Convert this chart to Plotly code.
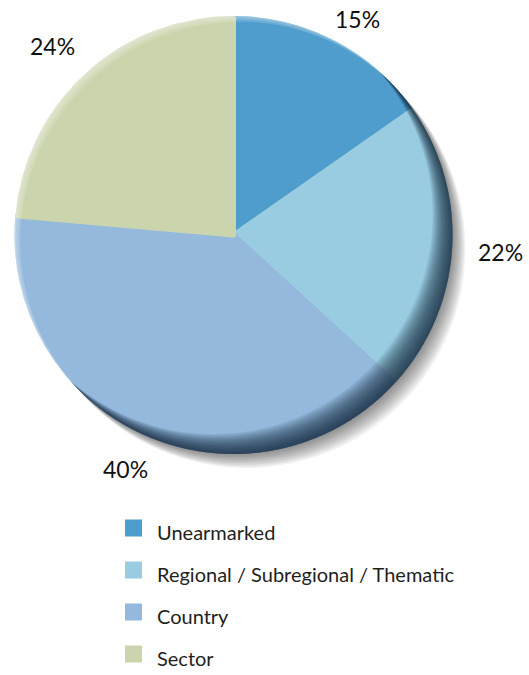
import math
import plotly.graph_objects as go

labels = ["Unearmarked", "Regional / Subregional / Thematic", "Country", "Sector"]
values = [15.3, 21.5, 39.6, 23.6]
colors = ["#4F9DCC", "#99CCE1", "#94B9DD", "#CBD5AD"]

# the figure fills the 529x675 window (body margin is reset to 0 below)
W, H = 529, 675
cx, cy, RV = 233.5, 235, 219      # visible pie centre / radius (px)
LW = 5                            # slice outline width (also enlarges legend squares)
R = RV - LW / 2                   # pie radius given to plotly


def P(x, y):
    return x / W, 1 - y / H


def circle(x, y, r, fill, layer="below"):
    x0, y1 = P(x - r, y - r)
    x1, y0 = P(x + r, y + r)
    return dict(type="circle", xref="paper", yref="paper", layer=layer,
                x0=x0, x1=x1, y0=y0, y1=y1, fillcolor=fill, line=dict(width=0))


def crescent(direction, off, fill, n=72):
    """Part of the pie disc not covered by the same disc shifted by `off` px
    away from `direction` (degrees clockwise from 12 o'clock)."""
    d = math.degrees(math.asin(off / (2 * RV)))
    ux, uy = math.sin(math.radians(direction)), -math.cos(math.radians(direction))
    ix, iy = cx - off * ux, cy - off * uy
    pts = []
    a0, a1 = direction - (90 + d), direction + (90 + d)
    for k in range(n + 1):
        t = math.radians(a0 + (a1 - a0) * k / n)
        pts.append(P(cx + RV * math.sin(t), cy - RV * math.cos(t)))
    b0, b1 = direction + (90 - d), direction - (90 - d)
    for k in range(n + 1):
        t = math.radians(b0 + (b1 - b0) * k / n)
        pts.append(P(ix + RV * math.sin(t), iy - RV * math.cos(t)))
    path = "M " + " L ".join(f"{a:.5f},{b:.5f}" for a, b in pts) + " Z"
    return dict(type="path", xref="paper", yref="paper", layer="above",
                path=path, fillcolor=fill, line=dict(width=0))


shapes = []
# soft drop shadow (below the pie)
for k in range(18, 0, -2):
    shapes.append(circle(cx + k * 0.72, cy + k * 0.78, RV, "rgba(0,0,0,0.055)"))
# dark rim shading along the lower-right edge
for off in range(28, 0, -2):
    shapes.append(crescent(135, off, "rgba(16,40,60,0.10)"))
# light rim along the upper-left edge
for off in (8, 5, 2):
    shapes.append(crescent(315, off, "rgba(255,255,255,0.16)"))

# percentage labels placed radially outside each slice's mid-angle,
# kept inside the top of the canvas
total = sum(values)
annotations = []
cum = 0
D, HW, HH, TOPMIN = 247, 21, 9, 19
for v in values:
    mid = math.radians((cum + v / 2) / total * 360)
    cum += v
    lxp = cx + (D + HW) * math.sin(mid)
    lyp = max(cy - (D + HH) * math.cos(mid), TOPMIN)
    x, y = P(lxp, lyp)
    annotations.append(dict(x=x, y=y, xref="paper", yref="paper", showarrow=False,
                            text=f"{round(v / total * 100)}%",
                            font=dict(size=23, family="Lato", color="#111111"),
                            xanchor="center", yanchor="middle"))

legend_text = [f"<span style='font-size:20px'>{l}</span>" for l in labels]

lx, ly = P(110, 502)
fig = go.Figure(go.Pie(
    labels=legend_text,
    values=values,
    sort=False,
    direction="clockwise",
    rotation=0,
    marker=dict(colors=colors, line=dict(color=colors, width=LW)),
    textinfo="none",
    hoverinfo="percent",
    domain=dict(x=[P(cx - R, 0)[0], P(cx + R, 0)[0]],
                y=[P(0, cy + R)[1], P(0, cy - R)[1]]),
))

fig.update_layout(
    width=W, height=H,
    margin=dict(l=0, r=0, t=0, b=0, autoexpand=False),
    paper_bgcolor="white",
    shapes=shapes,
    annotations=annotations,
    showlegend=True,
    legend=dict(x=lx, xanchor="left", y=ly, yanchor="top",
                font=dict(size=30, family="Lato", color="#231F20"),
                itemwidth=37, bgcolor="rgba(0,0,0,0)"),
    font=dict(family="Lato"),
)

fig.write_html("out.html",
               config={"displayModeBar": False},
               post_script="document.body.style.margin='0px';")
